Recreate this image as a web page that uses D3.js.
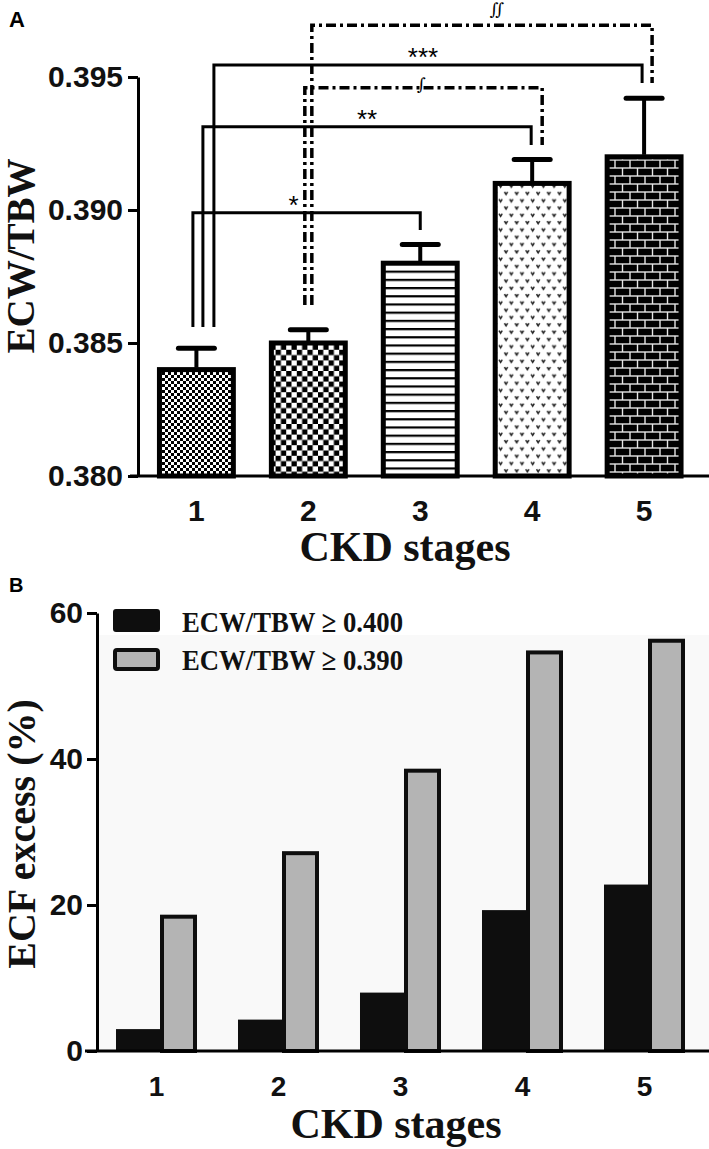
<!DOCTYPE html>
<html>
<head>
<meta charset="utf-8">
<script src="https://cdn.jsdelivr.net/npm/d3@7"></script>
<style>
  html, body { margin: 0; padding: 0; background: #ffffff; }
  svg { display: block; }
  .tick text { font-family: "Liberation Sans", Arial, sans-serif; font-weight: bold; fill: #111; }
  .ttl { font-family: "Liberation Serif", "Times New Roman", serif; font-weight: bold; fill: #111; }
</style>
</head>
<body>
<script>
// ---------- Data ----------
const stages = ["1", "2", "3", "4", "5"];
const ratioMeans = [0.384, 0.385, 0.388, 0.391, 0.392];
const ratioErrors = [0.0008, 0.0005, 0.0007, 0.0009, 0.0022];
const ratioTicks = [0.380, 0.385, 0.390, 0.395];
const ratioPatterns = ["p1", "p2", "p3", "p4", "p5"];

// significance brackets: from stage, to stage, bracket level, left end, right end, label, dashed
const bracketFrom  = ["1", "1", "1", "2", "2"];
const bracketTo    = ["3", "4", "5", "4", "5"];
const bracketLevel = [0.3899, 0.39313, 0.39545, 0.3946, 0.39695];
const bracketLeftEnd  = [0.3856, 0.3856, 0.3856, 0.38643, 0.38643];
const bracketRightEnd = [0.38925, 0.39244, 0.39477, 0.39244, 0.39477];
const bracketLabels = ["*", "**", "***", "\u222B", "\u222C"];
const bracketDashed = [false, false, false, true, true];

const excessKeys = ["e400", "e390"];
const excess400 = [3.0, 4.3, 8.0, 19.3, 22.8];
const excess390 = [18.4, 27.1, 38.4, 54.6, 56.2];
const excessTicks = [0, 20, 40, 60];
const legendLabels = ["ECW/TBW \u2265 0.400", "ECW/TBW \u2265 0.390"];

// ---------- Setup ----------
const W = 709, H = 1149;
const svg = d3.select("body").append("svg").attr("width", W).attr("height", H);
const defs = svg.append("defs");

function pat(id, w, h) {
  return defs.append("pattern").attr("id", id).attr("patternUnits", "userSpaceOnUse")
    .attr("width", w).attr("height", h);
}
{
  const p = pat("p1", 6, 6);
  p.append("rect").attr("width", 6).attr("height", 6).attr("fill", "#fff");
  p.append("rect").attr("width", 3).attr("height", 3).attr("fill", "#000");
  p.append("rect").attr("x", 3).attr("y", 3).attr("width", 3).attr("height", 3).attr("fill", "#000");
}
{
  const s = 5.3;
  const p = pat("p2", 2 * s, 2 * s);
  p.append("rect").attr("width", 2 * s).attr("height", 2 * s).attr("fill", "#fff");
  p.append("rect").attr("width", s).attr("height", s).attr("fill", "#000");
  p.append("rect").attr("x", s).attr("y", s).attr("width", s).attr("height", s).attr("fill", "#000");
}
{
  const p = pat("p3", 10, 8.2);
  p.append("rect").attr("width", 10).attr("height", 8.2).attr("fill", "#fff");
  p.append("rect").attr("width", 10).attr("height", 2.2).attr("fill", "#000");
}
{
  const p = pat("p4", 10.7, 14.6);
  p.append("rect").attr("width", 10.7).attr("height", 14.6).attr("fill", "#fff");
  [[1.5, 2], [6.8, 9.3]].forEach(([x, y]) => {
    p.append("path").attr("d", `M${x},${y} l1.6,2.6 l1.6,-2.6`).attr("fill", "none")
      .attr("stroke", "#222").attr("stroke-width", 1.5);
  });
}
{
  const p = pat("p5", 15, 16);
  p.append("rect").attr("width", 15).attr("height", 16).attr("fill", "#e6e6e6");
  p.append("rect").attr("x", 0.7).attr("y", 0.7).attr("width", 13.6).attr("height", 6.6).attr("fill", "#000");
  p.append("rect").attr("x", -6.8).attr("y", 8.7).attr("width", 13.6).attr("height", 6.6).attr("fill", "#000");
  p.append("rect").attr("x", 8.2).attr("y", 8.7).attr("width", 13.6).attr("height", 6.6).attr("fill", "#000");
}

// ---------- Panel A ----------
const yA = d3.scaleLinear().domain([0.380, 0.395]).range([476, 77]);
const xA = d3.scaleBand().domain(stages).range([140.5, 700]).paddingInner(0.295).paddingOuter(0.147);
const axA = 138;

svg.append("text").attr("x", 9).attr("y", 27).text("A")
  .style("font-family", "Liberation Sans, Arial, sans-serif").style("font-weight", "bold").style("font-size", "22px");

const gA = svg.append("g");
gA.selectAll("rect.bar").data(stages).join("rect").attr("class", "bar")
  .attr("x", d => xA(d) + 2.5)
  .attr("width", xA.bandwidth() - 5)
  .attr("y", (d, i) => yA(ratioMeans[i]))
  .attr("height", (d, i) => yA(0.380) - yA(ratioMeans[i]))
  .attr("fill", (d, i) => `url(#${ratioPatterns[i]})`)
  .attr("stroke", "#000").attr("stroke-width", 5);

const cx = d => xA(d) + xA.bandwidth() / 2;
gA.selectAll("line.stem").data(stages).join("line").attr("class", "stem")
  .attr("x1", cx).attr("x2", cx)
  .attr("y1", (d, i) => yA(ratioMeans[i]) - 2)
  .attr("y2", (d, i) => yA(ratioMeans[i] + ratioErrors[i]))
  .attr("stroke", "#000").attr("stroke-width", 4);
gA.selectAll("line.cap").data(stages).join("line").attr("class", "cap")
  .attr("x1", d => cx(d) - 18).attr("x2", d => cx(d) + 18)
  .attr("y1", (d, i) => yA(ratioMeans[i] + ratioErrors[i]))
  .attr("y2", (d, i) => yA(ratioMeans[i] + ratioErrors[i]))
  .attr("stroke", "#000").attr("stroke-width", 5).attr("stroke-linecap", "round");

// brackets
const leftOff = [-3.5, 6.5, 17.5, -3.5, 3.5];
const rightOff = [0, -1, -2, 10, 8];
const labelOff = [-13, 0, -5, -2, 15];
const gB = svg.append("g");
bracketFrom.forEach((f, i) => {
  const x1 = cx(f) + leftOff[i];
  const x2 = cx(bracketTo[i]) + rightOff[i];
  const yl = yA(bracketLevel[i]);
  const path = `M${x1},${yA(bracketLeftEnd[i])} V${yl} H${x2} V${yA(bracketRightEnd[i])}`;
  gB.append("path").attr("d", path).attr("fill", "none").attr("stroke", "#000")
    .attr("stroke-width", bracketDashed[i] ? 3.5 : 3)
    .attr("stroke-dasharray", bracketDashed[i] ? "10,4,3,4" : null);
  const t = gB.append("text").attr("x", (x1 + x2) / 2 + labelOff[i])
    .attr("text-anchor", "middle").text(bracketLabels[i]);
  if (bracketDashed[i]) {
    t.attr("y", yl + (i === 4 ? -10 : 2)).style("font-family", "DejaVu Serif, serif")
      .style("font-style", "italic").style("font-size", "17px");
  } else {
    t.attr("y", yl + 1).style("font-family", "Liberation Sans, Arial, sans-serif")
      .style("font-size", "26px");
  }
});

// axes
const yAxisA = svg.append("g").attr("transform", `translate(${axA},0)`)
  .call(d3.axisLeft(yA).tickValues(ratioTicks).tickFormat(d3.format(".3f"))
    .tickSize(10).tickSizeOuter(0).tickPadding(5));
yAxisA.select(".domain").attr("stroke-width", 3);
yAxisA.selectAll(".tick line").attr("stroke-width", 3);
yAxisA.selectAll(".tick text").style("font-size", "30px");

svg.append("line").attr("x1", 130).attr("x2", W).attr("y1", yA(0.380)).attr("y2", yA(0.380))
  .attr("stroke", "#000").attr("stroke-width", 3);
const xAxisA = svg.append("g").attr("transform", `translate(0,${yA(0.380)})`)
  .call(d3.axisBottom(xA).tickSize(0).tickPadding(24));
xAxisA.select(".domain").remove();
xAxisA.selectAll(".tick text").style("font-size", "30px");

svg.append("text").attr("class", "ttl").attr("text-anchor", "middle")
  .attr("transform", "translate(34,256) rotate(-90)").style("font-size", "39px").text("ECW/TBW");
svg.append("text").attr("class", "ttl").attr("text-anchor", "middle")
  .attr("x", 405).attr("y", 561).style("font-size", "42px").text("CKD stages");

// ---------- Panel B ----------
const yB = d3.scaleLinear().domain([0, 60]).range([1051, 613]);
const xB = d3.scaleBand().domain(stages).range([95.5, 705.5]).paddingInner(0.336).paddingOuter(0.168);
const xB1 = d3.scaleBand().domain(excessKeys).range([0, xB.bandwidth()]);
const axB = 97;

svg.append("text").attr("x", 9).attr("y", 592).text("B")
  .style("font-family", "Liberation Sans, Arial, sans-serif").style("font-weight", "bold").style("font-size", "20px");

svg.append("rect").attr("x", axB).attr("y", 635).attr("width", W - axB).attr("height", yB(0) - 635)
  .attr("fill", "#f9f9f9");

const gBars = svg.append("g");
gBars.selectAll("rect.b400").data(stages).join("rect").attr("class", "b400")
  .attr("x", d => xB(d) + xB1("e400"))
  .attr("width", xB1.bandwidth() + 3.5)
  .attr("y", (d, i) => yB(excess400[i]))
  .attr("height", (d, i) => yB(0) - yB(excess400[i]))
  .attr("fill", "#0e0e0e");
gBars.selectAll("rect.b390").data(stages).join("rect").attr("class", "b390")
  .attr("x", d => xB(d) + xB1("e390") + 5.5)
  .attr("width", xB1.bandwidth() - 7.5)
  .attr("y", (d, i) => yB(excess390[i]))
  .attr("height", (d, i) => yB(0) - yB(excess390[i]))
  .attr("fill", "#b4b4b4").attr("stroke", "#0e0e0e").attr("stroke-width", 4);

const yAxisB = svg.append("g").attr("transform", `translate(${axB},0)`)
  .call(d3.axisLeft(yB).tickValues(excessTicks).tickSize(10).tickSizeOuter(0).tickPadding(4));
yAxisB.select(".domain").attr("stroke-width", 3);
yAxisB.selectAll(".tick line").attr("stroke-width", 3);
yAxisB.selectAll(".tick text").style("font-size", "30px");

svg.append("line").attr("x1", 85).attr("x2", W).attr("y1", yB(0)).attr("y2", yB(0))
  .attr("stroke", "#000").attr("stroke-width", 3);
const xAxisB = svg.append("g").attr("transform", `translate(0,${yB(0)})`)
  .call(d3.axisBottom(xB).tickSize(0).tickPadding(25));
xAxisB.select(".domain").remove();
xAxisB.selectAll(".tick text").style("font-size", "28px");

// legend
const leg = svg.append("g");
leg.append("rect").attr("x", 113).attr("y", 609).attr("width", 47).attr("height", 23).attr("rx", 3).attr("fill", "#0e0e0e");
leg.append("rect").attr("x", 115).attr("y", 650).attr("width", 43).attr("height", 19).attr("rx", 2)
  .attr("fill", "#b4b4b4").attr("stroke", "#0e0e0e").attr("stroke-width", 4);
leg.selectAll("text").data(legendLabels).join("text").attr("class", "ttl")
  .attr("x", 182).attr("y", (d, i) => 632 + i * 38)
  .attr("textLength", 221).attr("lengthAdjust", "spacingAndGlyphs")
  .style("font-size", "30px").text(d => d);

svg.append("text").attr("class", "ttl").attr("text-anchor", "middle")
  .attr("transform", "translate(35,834) rotate(-90)").style("font-size", "40px").text("ECF excess (%)");
svg.append("text").attr("class", "ttl").attr("text-anchor", "middle")
  .attr("x", 396).attr("y", 1138).style("font-size", "42px").text("CKD stages");
</script>
</body>
</html>
